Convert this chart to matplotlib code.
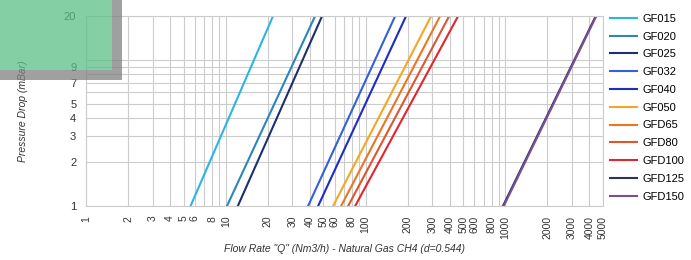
import matplotlib.pyplot as plt
from matplotlib.patches import Rectangle
from matplotlib.ticker import FixedLocator, NullLocator

plt.rcParams['font.family'] = ['Liberation Sans', 'DejaVu Sans']

# flow rate read at 1 mbar and at 20 mbar (log-log straight lines)
models = ['GF015', 'GF020', 'GF025', 'GF032', 'GF040', 'GF050',
          'GFD65', 'GFD80', 'GFD100', 'GFD125', 'GFD150']
q_at_1 = [5.6, 10.2, 12.2, 38.8, 45.8, 58.6, 66.9, 75.1, 84.3, 962, 975]
q_at_20 = [21.8, 43.6, 48.9, 163, 195, 295, 342, 397, 460, 4440, 4480]
dp_ends = [1, 20]
colors = ['#2bb5e6', '#2a86bd', '#1d2f6e', '#3460d8', '#1c2cc4', '#f5a623',
          '#ee7424', '#dd5630', '#e0262f', '#2c3558', '#7b4f96']

x_ticks = [1, 2, 3, 4, 5, 6, 8, 10, 20, 30, 40, 50, 60, 80, 100, 200, 300,
           400, 500, 600, 800, 1000, 2000, 3000, 4000, 5000]
x_grid = [m * 10 ** e for e in range(4) for m in range(1, 10) if m * 10 ** e <= 5000]
y_grid = [1, 2, 3, 4, 5, 6, 7, 8, 9, 10, 20]
y_labels = ['1', '2', '3', '4', '5', '', '7', '', '9', '', '20']

fig = plt.figure(figsize=(6.91, 2.6), dpi=100)
ax = fig.add_axes([86 / 691, 1 - 206 / 260, (603 - 86) / 691, 190 / 260])

for name, q1, q2, c in zip(models, q_at_1, q_at_20, colors):
    ax.plot([q1, q2], dp_ends, color=c, lw=1.5, label=name)

ax.set_xscale('log')
ax.set_yscale('log')
ax.set_xlim(1, 5000)
ax.set_ylim(1, 20)

ax.xaxis.set_major_locator(FixedLocator(x_ticks))
ax.xaxis.set_minor_locator(NullLocator())
ax.set_xticklabels([str(t) for t in x_ticks], rotation=90, fontsize=7.5, color='#333333')
ax.yaxis.set_major_locator(FixedLocator(y_grid))
ax.yaxis.set_minor_locator(NullLocator())
ax.set_yticklabels(y_labels, fontsize=8, color='#333333')
ax.tick_params(length=0, pad=7)

for v in x_grid:
    ax.axvline(v, color='#cccccc', lw=0.8, zorder=0)
for v in y_grid:
    ax.axhline(v, color='#cccccc', lw=0.8, zorder=0)
for s in ax.spines.values():
    s.set_color('#cccccc')
    s.set_linewidth(0.8)

ax.set_xlabel('Flow Rate "Q" (Nm3/h) - Natural Gas CH4 (d=0.544)',
              fontsize=7.5, style='italic', color='#333333', labelpad=4)
ax.set_ylabel('Pressure Drop (mBar)', fontsize=7.5, style='italic',
              color='#333333', labelpad=26)

ax.legend(loc='upper left', bbox_to_anchor=(1.005, 1.035), frameon=False,
          fontsize=8, handlelength=2.4, handletextpad=0.5,
          labelspacing=0.7, borderaxespad=0)

# green overlay box with grey shadow in the top-left corner
fig.patches.append(Rectangle((0, 1 - 70 / 260), 112 / 691, 70 / 260,
                             transform=fig.transFigure, facecolor='#5cbf86',
                             alpha=0.75, edgecolor='none', zorder=5))
fig.patches.append(Rectangle((112 / 691, 1 - 80 / 260), 10 / 691, 80 / 260,
                             transform=fig.transFigure, facecolor='#808080',
                             alpha=0.75, edgecolor='none', zorder=5))
fig.patches.append(Rectangle((0, 1 - 80 / 260), 112 / 691, 10 / 260,
                             transform=fig.transFigure, facecolor='#808080',
                             alpha=0.75, edgecolor='none', zorder=5))

fig.savefig('out.png', dpi=100)
